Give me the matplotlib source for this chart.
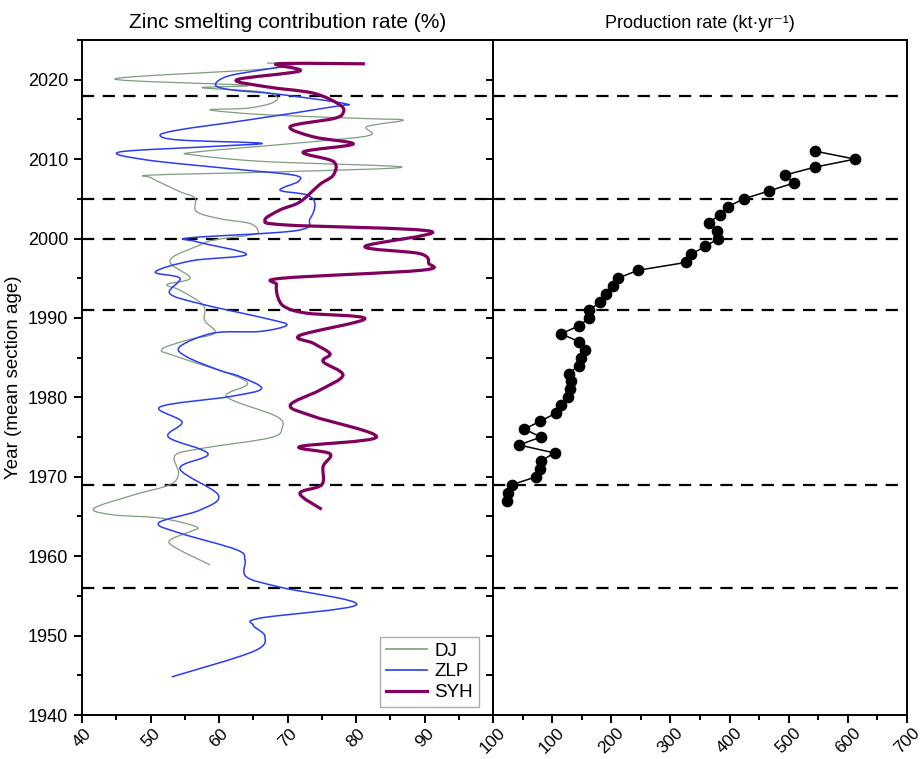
import numpy as np
import matplotlib
matplotlib.use('Agg')
import matplotlib.pyplot as plt
from matplotlib.path import Path
from matplotlib.patches import PathPatch
from matplotlib.lines import Line2D
from matplotlib.ticker import MultipleLocator, FixedLocator, FuncFormatter

plt.rcParams['font.family'] = ['Liberation Sans', 'DejaVu Sans']

# ---------------- data ----------------
dj_year = [2022.1, 2022.0, 2021.3, 2020.1, 2019.3, 2019.0, 2018.5, 2017.8, 2017.0, 2016.4,
           2016.2, 2015.6, 2015.1, 2014.9, 2014.1, 2013.0, 2012.2, 2010.9, 2010.5, 2009.7,
           2009.0, 2008.4, 2008.0, 2007.6, 2005.9, 2005.1, 2003.4, 2002.5, 2001.9, 2001.0,
           2000.5, 1999.8, 1999.0, 1997.7, 1996.7, 1995.0, 1994.2, 1993.5, 1991.6, 1989.7,
           1988.1, 1987.2, 1986.0, 1985.0, 1982.0, 1980.1, 1977.6, 1976.1, 1974.9, 1973.6,
           1972.7, 1970.4, 1969.0, 1967.7, 1966.0, 1965.2, 1964.8, 1963.7, 1963.1, 1962.0,
           1961.0, 1958.9]
dj_rate = [67.0, 71.0, 66.0, 44.8, 64.0, 57.5, 66.0, 68.5, 67.5, 64.0,
           58.7, 66.5, 81.6, 86.9, 81.6, 82.0, 73.8, 56.7, 56.5, 66.5,
           86.7, 68.9, 50.4, 50.2, 54.3, 56.5, 56.7, 60.1, 64.5, 65.7,
           65.0, 59.2, 56.7, 53.3, 53.1, 55.8, 52.4, 54.3, 57.7, 57.9,
           59.4, 55.3, 51.6, 54.3, 64.0, 61.1, 68.4, 69.2, 67.4, 57.7,
           53.6, 54.1, 52.8, 47.5, 41.7, 44.6, 51.4, 56.7, 55.8, 52.8,
           53.8, 58.7]

zlp_year = [2021.7, 2021.2, 2020.4, 2019.3, 2018.7, 2018.2, 2017.0, 2016.6, 2014.9, 2013.7,
            2013.0, 2012.4, 2012.0, 2011.6, 2010.9, 2009.9, 2008.8, 2008.0, 2007.2, 2006.1,
            2005.5, 2004.4, 2002.5, 2001.0, 2000.1, 1999.6, 1998.0, 1997.2, 1995.8, 1995.0,
            1993.1, 1991.8, 1989.9, 1989.1, 1988.3, 1988.1, 1986.4, 1985.1, 1983.4, 1982.6,
            1981.1, 1980.1, 1978.8, 1976.9, 1975.0, 1972.9, 1971.0, 1967.7, 1965.8, 1964.2,
            1962.9, 1960.8, 1959.5, 1957.4, 1956.1, 1953.9, 1952.2, 1951.3, 1949.9, 1948.0,
            1944.8]
zlp_rate = [70.0, 66.0, 61.1, 59.5, 62.0, 68.4, 78.3, 76.7, 64.0, 54.3,
            51.4, 54.3, 66.2, 59.2, 45.5, 49.4, 61.6, 70.8, 71.6, 68.9,
            72.8, 74.0, 73.3, 71.3, 55.8, 56.7, 64.0, 56.0, 50.7, 54.3,
            52.8, 57.2, 67.0, 69.9, 66.0, 59.2, 54.3, 55.3, 60.1, 63.1,
            66.2, 61.6, 51.4, 54.6, 52.6, 58.4, 54.3, 59.9, 57.2, 51.2,
            54.3, 62.6, 63.8, 64.0, 68.9, 80.1, 66.0, 65.0, 66.7, 65.0,
            53.1]

syh_year = [2022.0, 2022.0, 2021.1, 2020.0, 2019.1, 2018.3, 2016.8, 2015.8, 2015.1, 2014.1,
            2012.8, 2011.9, 2010.9, 2009.7, 2008.0, 2006.8, 2004.6, 2003.6, 2002.3, 2001.7,
            2000.9, 1999.0, 1998.1, 1996.9, 1996.0, 1995.0, 1994.2, 1992.6, 1991.4, 1990.6,
            1989.9, 1987.8, 1986.8, 1985.5, 1984.5, 1982.8, 1980.9, 1979.0, 1977.6, 1975.0,
            1973.8, 1972.9, 1971.3, 1969.0, 1967.9, 1965.9]
syh_rate = [81.3, 68.5, 71.8, 62.6, 67.0, 73.8, 77.7, 78.1, 76.7, 70.4,
            73.8, 79.6, 72.3, 76.7, 76.7, 74.7, 71.8, 68.9, 66.7, 69.9,
            91.0, 81.3, 89.3, 90.6, 89.5, 69.2, 68.4, 68.6, 69.6, 72.8,
            81.3, 71.8, 73.8, 76.2, 75.2, 78.1, 74.7, 70.4, 73.8, 83.0,
            71.8, 76.2, 75.2, 75.0, 71.8, 75.0]

prod_year = [1967, 1968, 1969, 1970, 1971, 1972, 1973, 1974, 1975, 1976, 1977, 1978,
             1979, 1980, 1981, 1982, 1983, 1984, 1985, 1986, 1987, 1988, 1989, 1990,
             1991, 1992, 1993, 1994, 1995, 1996, 1997, 1998, 1999, 2000, 2001, 2002,
             2003, 2004, 2005, 2006, 2007, 2008, 2009, 2010, 2011]
prod_rate = [23, 26, 32, 73, 79, 81, 104, 44, 81, 53, 80, 106,
             115, 127, 130, 132, 128, 145, 149, 155, 146, 115, 145, 163,
             163, 181, 191, 203, 211, 245, 327, 334, 359, 381, 378, 365,
             384, 397, 424, 467, 509, 494, 545, 612, 545]

boundary_years = [2018, 2005, 2000, 1991, 1969, 1956]

left_xticks = [40, 50, 60, 70, 80, 90, 100]
right_xticks = [0, 100, 200, 300, 400, 500, 600, 700]
year_ticks = [1940, 1950, 1960, 1970, 1980, 1990, 2000, 2010, 2020]

series_names = ['DJ', 'ZLP', 'SYH']
series_colors = ['#7f9c7f', '#2a3cf0', '#800060']
series_lw = [0.9, 1.1, 2.3]


def smooth_path(xs, ys):
    """Catmull-Rom spline through the points, drawn as cubic Bezier segments."""
    P = np.column_stack([xs, ys]).astype(float)
    n = len(P)
    E = np.vstack([P[0], P, P[-1]])
    verts = [P[0]]
    codes = [Path.MOVETO]
    for i in range(n - 1):
        p0, p1, p2, p3 = E[i], E[i + 1], E[i + 2], E[i + 3]
        verts += [p1 + (p2 - p0) / 6.0, p2 - (p3 - p1) / 6.0, p2]
        codes += [Path.CURVE4] * 3
    return Path(verts, codes)


fig = plt.figure(figsize=(9.21, 7.59), dpi=100)
W, H = 921.0, 759.0
ax1 = fig.add_axes([82 / W, 44 / H, 411 / W, 675 / H])
ax2 = fig.add_axes([493 / W, 44 / H, 414 / W, 675 / H])

for ax in (ax1, ax2):
    ax.set_ylim(1940, 2025)
    for s in ax.spines.values():
        s.set_linewidth(1.4)
    for yb in boundary_years:
        ax.axhline(yb, color='black', lw=1.6, ls=(0, (5.5, 3.8)), zorder=1)

# ---- left panel ----
ax1.set_xlim(40, 100)
for xs, ys, c, lw, z in zip([dj_rate, zlp_rate, syh_rate],
                            [dj_year, zlp_year, syh_year],
                            series_colors, series_lw, [2, 3, 4]):
    ax1.add_patch(PathPatch(smooth_path(xs, ys), fill=False, edgecolor=c,
                            lw=lw, zorder=z, joinstyle='round', capstyle='butt'))

ax1.xaxis.set_major_locator(FixedLocator(left_xticks))
ax1.xaxis.set_minor_locator(MultipleLocator(5))
ax1.yaxis.set_major_locator(FixedLocator(year_ticks))
ax1.yaxis.set_minor_locator(MultipleLocator(5))
ax1.tick_params(axis='y', which='major', direction='out', length=6, width=1.4,
                labelsize=13, pad=4)
ax1.tick_params(axis='x', which='major', direction='out', length=6, width=1.4,
                labelsize=12.5, pad=1.5, labelrotation=45)
ax1.tick_params(axis='both', which='minor', direction='out', length=3.5, width=1.4)
ax1.set_ylabel('Year (mean section age)', fontsize=13.5, labelpad=4)
ax1.set_title('Zinc smelting contribution rate (%)', fontsize=15, pad=9)

sec = ax1.secondary_yaxis('right')
sec.yaxis.set_major_locator(FixedLocator(year_ticks))
sec.yaxis.set_minor_locator(MultipleLocator(5))
sec.tick_params(which='both', direction='in', length=5, width=1.4, labelright=False)
sec.spines['right'].set_linewidth(1.4)

handles = [Line2D([], [], color=c, lw=max(lw, 1.2)) for c, lw in zip(series_colors, series_lw)]
leg = ax1.legend(handles, series_names, loc='lower right', bbox_to_anchor=(0.965, 0.012),
                 borderaxespad=0, fontsize=13.5, frameon=True, fancybox=False,
                 edgecolor='#999999', handlelength=2.2, handletextpad=0.4,
                 labelspacing=0.2, borderpad=0.3)
leg.get_frame().set_linewidth(1.0)

# ---- right panel ----
ax2.set_xlim(0, 700)
ax2.plot(prod_rate, prod_year, color='black', lw=1.1, marker='o', ms=7.4,
         markerfacecolor='black', markeredgecolor='black', zorder=3)
ax2.xaxis.set_major_locator(FixedLocator(right_xticks))
ax2.xaxis.set_minor_locator(MultipleLocator(50))
ax2.xaxis.set_major_formatter(FuncFormatter(lambda v, p: '' if v == 0 else f'{v:.0f}'))
ax2.tick_params(axis='x', which='major', direction='out', length=6, width=1.4,
                labelsize=12.5, pad=1.5, labelrotation=45)
ax2.tick_params(axis='x', which='minor', direction='out', length=3.5, width=1.4)
ax2.tick_params(axis='y', which='both', left=False, right=False, labelleft=False)
ax2.set_title('Production rate (kt·yr⁻¹)', fontsize=13, pad=9)

fig.savefig('out.png', dpi=100)
